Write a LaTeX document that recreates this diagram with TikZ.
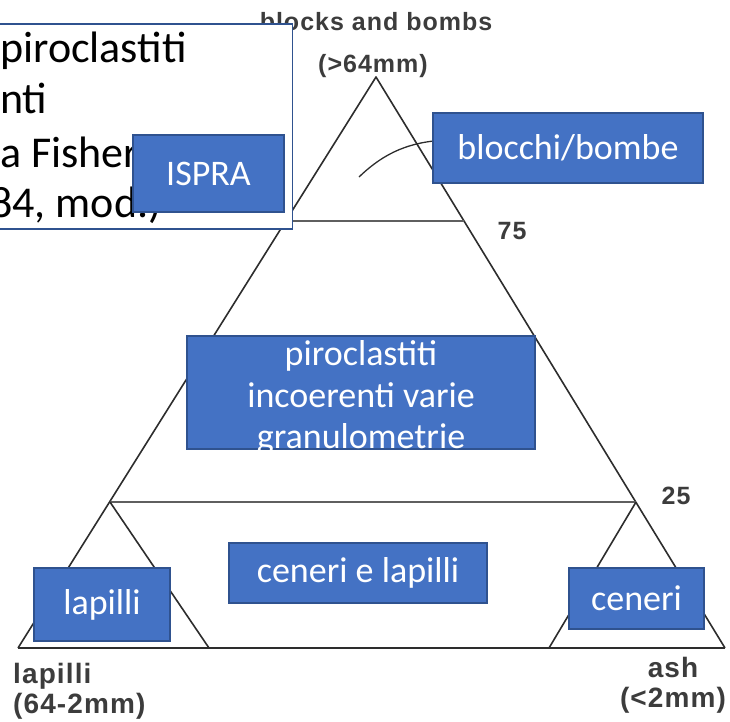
\documentclass[tikz,border=0pt]{standalone}
\usepackage{fontspec}
\setmainfont{Carlito}
\newfontfamily\scanfont[LetterSpace=4]{Liberation Sans}
\usetikzlibrary{positioning}
\definecolor{boxblue}{RGB}{68,114,196}
\definecolor{boxedge}{RGB}{47,82,143}
\definecolor{inkgray}{RGB}{45,45,45}
\definecolor{linegray}{RGB}{95,95,95}
\definecolor{scangray}{RGB}{60,60,60}

\begin{document}
\begin{tikzpicture}[
    x=1pt, y=-1pt,
    lbl/.style={draw=boxedge,fill=boxblue,line width=1.5pt,text=white,inner sep=0pt,font=\fontsize{36}{41}\selectfont,align=center},
    triline/.style={inkgray,line width=1.6pt,line join=round},
    cutline/.style={linegray,line width=2.6pt},
    floorline/.style={inkgray,line width=2.6pt},
    scan/.style={scangray,inner sep=0pt,anchor=base,font=\scanfont\bfseries\fontsize{25}{30}\selectfont},
    scanlow/.style={scan,font=\scanfont\bfseries\fontsize{28}{30}\selectfont},
    titletxt/.style={inner sep=0pt,anchor=base west,font=\fontsize{44}{52}\selectfont}
]
\useasboundingbox (0,0) rectangle (730,721);
\clip (0,0) rectangle (730,721);

\coordinate (top) at (376,77);
\coordinate (bl) at (18,648);
\coordinate (br) at (725,648);
\coordinate (l75) at (286,221);
\coordinate (r75) at (464,221);
\coordinate (l25) at (110,502);
\coordinate (r25) at (636,502);
\coordinate (lb) at (209,648);
\coordinate (rb) at (549,648);
\coordinate (arcA) at (359,177);
\coordinate (arcB) at (445,140);

\draw[triline] (bl) -- (top) -- (br);
\draw[floorline] (bl) -- (br);
\foreach \a/\b in {l75/r75,l25/r25}
    \draw[cutline] (\a) -- (\b);
\foreach \a/\b in {l25/lb,r25/rb}
    \draw[triline] (\a) -- (\b);
\draw[triline,line width=1.3pt] (arcA) .. controls (385,152) and (410,142) .. (arcB);

\node[scan] (blk1) at (376,30) {blocks and bombs};
\node[scan] (blk2) at (373,72) {(>64mm)};
\node[scan] (p75) at (512,239) {75};
\node[scan] (p25) at (676,504) {25};
\node[scanlow,anchor=base west] (lap1) at (13,683) {lapilli};
\node[scanlow,anchor=base west] (lap2) at (13,713) {(64-2mm)};
\node[scanlow] (ash1) at (673,677) {ash};
\node[scanlow] (ash2) at (673,707) {(<2mm)};

\node[draw=boxedge,fill=white,line width=1.5pt,inner sep=0pt,minimum width=330pt,minimum height=205pt,anchor=north east] (title) at (293,23) {};
\node[titletxt] (t1) at (0,62) {piroclastiti};
\node[titletxt] (t2) at (0,113) {nti};
\node[titletxt] (t3) at (0,167) {a Fisher};
\node[titletxt] (t4) at (-10,217) {84, mod.)};

\node[lbl,minimum width=151pt,minimum height=77pt] (ispra) at (208.5,173.5) {ISPRA};
\node[lbl,minimum width=270pt,minimum height=70pt] (blocchi) at (568,148) {blocchi/bombe};
\node[lbl,minimum width=348pt,minimum height=113pt] (mix) at (361,392.5) {};
\begin{scope}
\clip (mix.south west) rectangle (mix.north east);
\node[lbl,draw=none,fill=none,font=\fontsize{36}{41.5}\selectfont] (mixtxt) at (361,398) {piroclastiti\\incoerenti varie\\granulometrie};
\end{scope}
\node[lbl,minimum width=258pt,minimum height=60pt] (cenlap) at (358,573) {ceneri e lapilli};
\node[lbl,minimum width=136pt,minimum height=73pt] (lapilli) at (102,604.5) {lapilli};
\node[lbl,minimum width=135pt,minimum height=61pt] (ceneri) at (636.5,598.5) {ceneri};
\end{tikzpicture}
\end{document}
